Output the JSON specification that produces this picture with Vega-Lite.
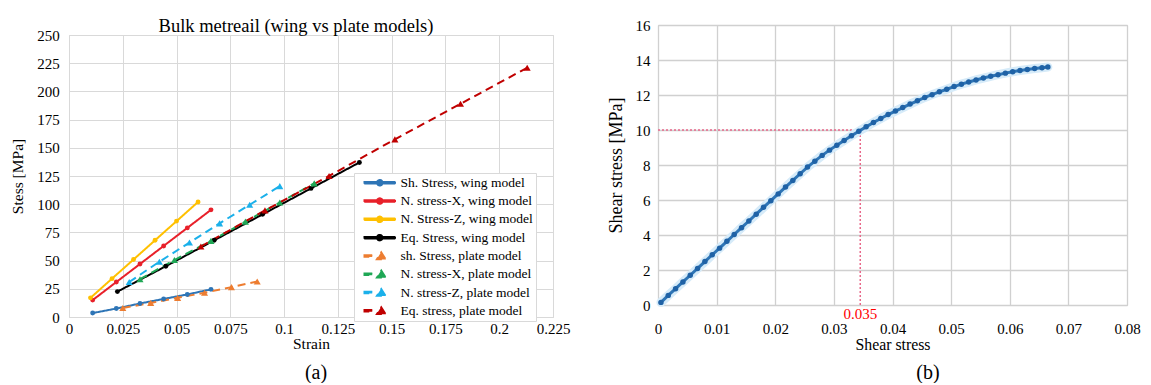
{
  "$schema": "https://vega.github.io/schema/vega-lite/v6.json",
  "background": "white",
  "padding": {"left": 10, "top": 16, "right": 0, "bottom": 0},
  "spacing": 35,
  "config": {
    "font": "Liberation Serif",
    "axis": {"labelFont": "Liberation Serif", "titleFont": "Liberation Serif", "labelColor": "black", "titleColor": "black", "titleFontWeight": "normal", "ticks": false, "domain": false, "labelFlush": false, "labelOverlap": false},
    "title": {"font": "Liberation Serif", "fontWeight": "normal", "color": "black"}
  },
  "datasets": {
    "strain": [
      {"series": "Sh. Stress, wing model", "strain": 0.011, "stress": 3.5},
      {"series": "Sh. Stress, wing model", "strain": 0.022, "stress": 7.5},
      {"series": "Sh. Stress, wing model", "strain": 0.033, "stress": 12},
      {"series": "Sh. Stress, wing model", "strain": 0.044, "stress": 16},
      {"series": "Sh. Stress, wing model", "strain": 0.055, "stress": 20},
      {"series": "Sh. Stress, wing model", "strain": 0.066, "stress": 24.5},
      {"series": "N. stress-X, wing model", "strain": 0.011, "stress": 15},
      {"series": "N. stress-X, wing model", "strain": 0.022, "stress": 31},
      {"series": "N. stress-X, wing model", "strain": 0.033, "stress": 47},
      {"series": "N. stress-X, wing model", "strain": 0.044, "stress": 63},
      {"series": "N. stress-X, wing model", "strain": 0.055, "stress": 79},
      {"series": "N. stress-X, wing model", "strain": 0.066, "stress": 95},
      {"series": "N. Stress-Z, wing model", "strain": 0.01, "stress": 17},
      {"series": "N. Stress-Z, wing model", "strain": 0.02, "stress": 34},
      {"series": "N. Stress-Z, wing model", "strain": 0.03, "stress": 51},
      {"series": "N. Stress-Z, wing model", "strain": 0.04, "stress": 68},
      {"series": "N. Stress-Z, wing model", "strain": 0.05, "stress": 85},
      {"series": "N. Stress-Z, wing model", "strain": 0.06, "stress": 102},
      {"series": "Eq. Stress, wing model", "strain": 0.0225, "stress": 22.5},
      {"series": "Eq. Stress, wing model", "strain": 0.045, "stress": 45},
      {"series": "Eq. Stress, wing model", "strain": 0.0675, "stress": 68},
      {"series": "Eq. Stress, wing model", "strain": 0.09, "stress": 91},
      {"series": "Eq. Stress, wing model", "strain": 0.1125, "stress": 114},
      {"series": "Eq. Stress, wing model", "strain": 0.135, "stress": 137},
      {"series": "sh. Stress, plate model", "strain": 0.025, "stress": 8},
      {"series": "sh. Stress, plate model", "strain": 0.038, "stress": 12.5},
      {"series": "sh. Stress, plate model", "strain": 0.0505, "stress": 17},
      {"series": "sh. Stress, plate model", "strain": 0.063, "stress": 21.5},
      {"series": "sh. Stress, plate model", "strain": 0.0755, "stress": 26.5},
      {"series": "sh. Stress, plate model", "strain": 0.0875, "stress": 31.5},
      {"series": "N. stress-X, plate model", "strain": 0.033, "stress": 33.5},
      {"series": "N. stress-X, plate model", "strain": 0.049, "stress": 50.5},
      {"series": "N. stress-X, plate model", "strain": 0.066, "stress": 67.5},
      {"series": "N. stress-X, plate model", "strain": 0.082, "stress": 84.5},
      {"series": "N. stress-X, plate model", "strain": 0.098, "stress": 101.5},
      {"series": "N. stress-X, plate model", "strain": 0.114, "stress": 118.5},
      {"series": "N. stress-Z, plate model", "strain": 0.028, "stress": 31},
      {"series": "N. stress-Z, plate model", "strain": 0.042, "stress": 49},
      {"series": "N. stress-Z, plate model", "strain": 0.056, "stress": 66},
      {"series": "N. stress-Z, plate model", "strain": 0.07, "stress": 83},
      {"series": "N. stress-Z, plate model", "strain": 0.084, "stress": 99.5},
      {"series": "N. stress-Z, plate model", "strain": 0.098, "stress": 116},
      {"series": "Eq. stress, plate model", "strain": 0.0613, "stress": 62.5},
      {"series": "Eq. stress, plate model", "strain": 0.0911, "stress": 94.5},
      {"series": "Eq. stress, plate model", "strain": 0.1209, "stress": 125},
      {"series": "Eq. stress, plate model", "strain": 0.1515, "stress": 157.5},
      {"series": "Eq. stress, plate model", "strain": 0.182, "stress": 189},
      {"series": "Eq. stress, plate model", "strain": 0.213, "stress": 221}
    ],
    "shear": [
      {"x": 0.0005, "y": 0.15}, {"x": 0.00175, "y": 0.55}, {"x": 0.003, "y": 0.93}, {"x": 0.00425, "y": 1.32},
      {"x": 0.0055, "y": 1.7}, {"x": 0.00675, "y": 2.09}, {"x": 0.008, "y": 2.48}, {"x": 0.00925, "y": 2.87},
      {"x": 0.0105, "y": 3.25}, {"x": 0.01175, "y": 3.64}, {"x": 0.013, "y": 4.03}, {"x": 0.01425, "y": 4.42},
      {"x": 0.0155, "y": 4.8}, {"x": 0.01675, "y": 5.19}, {"x": 0.018, "y": 5.58}, {"x": 0.01925, "y": 5.96},
      {"x": 0.0205, "y": 6.35}, {"x": 0.02175, "y": 6.74}, {"x": 0.023, "y": 7.12}, {"x": 0.02425, "y": 7.5},
      {"x": 0.0255, "y": 7.88}, {"x": 0.02675, "y": 8.22}, {"x": 0.028, "y": 8.55}, {"x": 0.02925, "y": 8.85},
      {"x": 0.0305, "y": 9.13}, {"x": 0.03175, "y": 9.4}, {"x": 0.033, "y": 9.67}, {"x": 0.03425, "y": 9.93},
      {"x": 0.0355, "y": 10.18}, {"x": 0.03675, "y": 10.43}, {"x": 0.038, "y": 10.66}, {"x": 0.03925, "y": 10.88},
      {"x": 0.0405, "y": 11.08}, {"x": 0.04175, "y": 11.28}, {"x": 0.043, "y": 11.48}, {"x": 0.04425, "y": 11.67},
      {"x": 0.0455, "y": 11.86}, {"x": 0.04675, "y": 12.02}, {"x": 0.048, "y": 12.18}, {"x": 0.04925, "y": 12.33},
      {"x": 0.0505, "y": 12.48}, {"x": 0.05175, "y": 12.62}, {"x": 0.053, "y": 12.74}, {"x": 0.05425, "y": 12.86},
      {"x": 0.0555, "y": 12.97}, {"x": 0.05675, "y": 13.07}, {"x": 0.058, "y": 13.16}, {"x": 0.05925, "y": 13.25},
      {"x": 0.0605, "y": 13.33}, {"x": 0.06175, "y": 13.4}, {"x": 0.063, "y": 13.46}, {"x": 0.06425, "y": 13.51},
      {"x": 0.0655, "y": 13.56}, {"x": 0.0665, "y": 13.6}
    ],
    "refs": [
      {"x": 0, "x2": 0.0345, "y": 10, "y2": 10},
      {"x": 0.0345, "x2": 0.0345, "y": 0, "y2": 10}
    ],
    "marker": [
      {"x": 0.0345, "y": 0, "label": "0.035"}
    ],
    "blank": [{"t": ""}]
  },
  "hconcat": [
    {
      "title": {"text": "(a)", "orient": "bottom", "anchor": "middle", "frame": "group", "dx": 247, "fontSize": 20, "offset": 10},
      "spacing": -15,
      "vconcat": [
        {
          "width": 484,
          "height": 1,
          "view": {"stroke": "transparent"},
          "data": {"name": "blank"},
          "mark": {"type": "text"},
          "encoding": {"text": {"field": "t"}}
        },
        {
          "width": 484,
          "height": 282,
          "view": {"stroke": "#d9d9d9"},
          "title": {"text": "Bulk metreail (wing vs plate models)", "fontSize": 18.5, "offset": -7, "dx": -15},
          "data": {"name": "strain"},
          "encoding": {
            "x": {"field": "strain", "type": "quantitative", "scale": {"domain": [0, 0.225], "nice": false, "zero": false},
              "axis": {"title": "Strain", "values": [0, 0.025, 0.05, 0.075, 0.1, 0.125, 0.15, 0.175, 0.2, 0.225], "labelExpr": "datum.value + ''", "labelFont": "Liberation Serif", "titleFont": "Liberation Serif", "gridColor": "#d9d9d9", "labelFontSize": 15, "titleFontSize": 15.5, "labelPadding": 4.5, "titlePadding": 0}},
            "y": {"field": "stress", "type": "quantitative", "scale": {"domain": [0, 250], "nice": false},
              "axis": {"title": "Stess [MPa]", "values": [0, 25, 50, 75, 100, 125, 150, 175, 200, 225, 250], "labelFont": "Liberation Serif", "titleFont": "Liberation Serif", "gridColor": "#d9d9d9", "labelFontSize": 15, "titleFontSize": 15.5, "labelPadding": 9.7, "titlePadding": 11}},
            "color": {"field": "series", "type": "nominal",
              "scale": {"domain": ["Sh. Stress, wing model", "N. stress-X, wing model", "N. Stress-Z, wing model", "Eq. Stress, wing model", "sh. Stress, plate model", "N. stress-X, plate model", "N. stress-Z, plate model", "Eq. stress, plate model"],
                "range": ["#2E75B6", "#E8202A", "#FFC000", "#000000", "#ED7D31", "#1FA755", "#1BB0EA", "#C00000"]},
              "legend": {
                "orient": "none", "legendX": 285, "legendY": 148, "title": null,
                "fillColor": "white", "strokeColor": "#d9d9d9", "padding": 3,
                "labelFont": "Liberation Serif", "labelFontSize": 13.5, "labelColor": "black",
                "symbolSize": 100, "symbolOffset": 16, "labelOffset": 14, "rowPadding": 3.3, "symbolOpacity": 1
              }}
          },
          "layer": [
            {
              "mark": {"type": "line", "strokeWidth": 2},
              "encoding": {
                "strokeDash": {"field": "series", "type": "nominal", "legend": null,
                  "scale": {"domain": ["Sh. Stress, wing model", "N. stress-X, wing model", "N. Stress-Z, wing model", "Eq. Stress, wing model", "sh. Stress, plate model", "N. stress-X, plate model", "N. stress-Z, plate model", "Eq. stress, plate model"],
                    "range": [[1, 0], [1, 0], [1, 0], [1, 0], [8, 5], [8, 5], [8, 5], [8, 5]]}}
              }
            },
            {
              "transform": [{"filter": "indexof(datum.series, 'wing') >= 0"}],
              "mark": {"type": "point", "filled": true, "opacity": 1, "shape": "circle", "size": 24}
            },
            {
              "transform": [{"filter": "indexof(datum.series, 'plate') >= 0"}],
              "mark": {"type": "point", "filled": true, "opacity": 1, "shape": "triangle-up", "size": 50}
            },
            {
              "transform": [{"filter": "datum.stress < 0"}],
              "mark": {"type": "point", "filled": true, "opacity": 1},
              "encoding": {
                "shape": {"field": "series", "type": "nominal",
                  "scale": {"domain": ["Sh. Stress, wing model", "N. stress-X, wing model", "N. Stress-Z, wing model", "Eq. Stress, wing model", "sh. Stress, plate model", "N. stress-X, plate model", "N. stress-Z, plate model", "Eq. stress, plate model"],
                    "range": [
                      "M-3.1,-0.2H3.1V0.2H-3.1ZM0.6,0A0.6,0.6,0,1,1,-0.6,0A0.6,0.6,0,1,1,0.6,0Z",
                      "M-3.1,-0.2H3.1V0.2H-3.1ZM0.6,0A0.6,0.6,0,1,1,-0.6,0A0.6,0.6,0,1,1,0.6,0Z",
                      "M-3.1,-0.2H3.1V0.2H-3.1ZM0.6,0A0.6,0.6,0,1,1,-0.6,0A0.6,0.6,0,1,1,0.6,0Z",
                      "M-3.1,-0.2H3.1V0.2H-3.1ZM0.6,0A0.6,0.6,0,1,1,-0.6,0A0.6,0.6,0,1,1,0.6,0Z",
                      "M-3.1,-0.2H-1.5V0.2H-3.1ZM0.3,-0.8L1.25,0.7L-0.65,0.7Z",
                      "M-3.1,-0.2H-1.5V0.2H-3.1ZM0.3,-0.8L1.25,0.7L-0.65,0.7Z",
                      "M-3.1,-0.2H-1.5V0.2H-3.1ZM0.3,-0.8L1.25,0.7L-0.65,0.7Z",
                      "M-3.1,-0.2H-1.5V0.2H-3.1ZM0.3,-0.8L1.25,0.7L-0.65,0.7Z"
                    ]}}
              }
            }
          ]
        }
      ]
    },
    {
      "title": {"text": "(b)", "orient": "bottom", "anchor": "middle", "frame": "group", "dx": 270, "fontSize": 20, "offset": 10},
      "vconcat": [
        {
          "width": 469,
          "height": 280,
          "view": {"stroke": "#cfcfcf"},
          "encoding": {
            "x": {"field": "x", "type": "quantitative", "scale": {"domain": [0, 0.08], "nice": false, "zero": false},
              "axis": {"title": "Shear stress", "values": [0, 0.01, 0.02, 0.03, 0.04, 0.05, 0.06, 0.07, 0.08], "labelExpr": "datum.value + ''", "labelFont": "Liberation Serif", "titleFont": "Liberation Serif", "gridColor": "#d0d0d0", "gridWidth": 1.3, "labelFontSize": 15, "titleFontSize": 15.8, "labelPadding": 16.5, "titlePadding": 1}},
            "y": {"field": "y", "type": "quantitative", "scale": {"domain": [0, 16], "nice": false},
              "axis": {"title": "Shear stress [MPa]", "values": [0, 2, 4, 6, 8, 10, 12, 14, 16], "labelFont": "Liberation Serif", "titleFont": "Liberation Serif", "gridColor": "#d0d0d0", "gridWidth": 1.3, "labelFontSize": 15, "titleFontSize": 18, "labelPadding": 8, "titlePadding": 10}}
          },
          "layer": [
            {
              "data": {"name": "refs"},
              "mark": {"type": "rule", "color": "#e8688a", "strokeWidth": 1.5, "strokeDash": [2, 2]},
              "encoding": {"x2": {"field": "x2"}, "y2": {"field": "y2"}}
            },
            {
              "data": {"name": "shear"},
              "mark": {"type": "line", "color": "#d6ebf9", "strokeWidth": 9, "strokeCap": "round"},
              "encoding": {}
            },
            {
              "data": {"name": "shear"},
              "mark": {"type": "line", "color": "#2E75B6", "strokeWidth": 3},
              "encoding": {}
            },
            {
              "data": {"name": "shear"},
              "mark": {"type": "point", "filled": true, "opacity": 1, "color": "#1F62A6", "size": 30},
              "encoding": {}
            },
            {
              "data": {"name": "marker"},
              "mark": {"type": "text", "color": "#ff0000", "fontSize": 15, "font": "Liberation Serif", "dy": 9, "baseline": "middle", "align": "center"},
              "encoding": {"text": {"field": "label"}}
            }
          ]
        }
      ]
    }
  ]
}
